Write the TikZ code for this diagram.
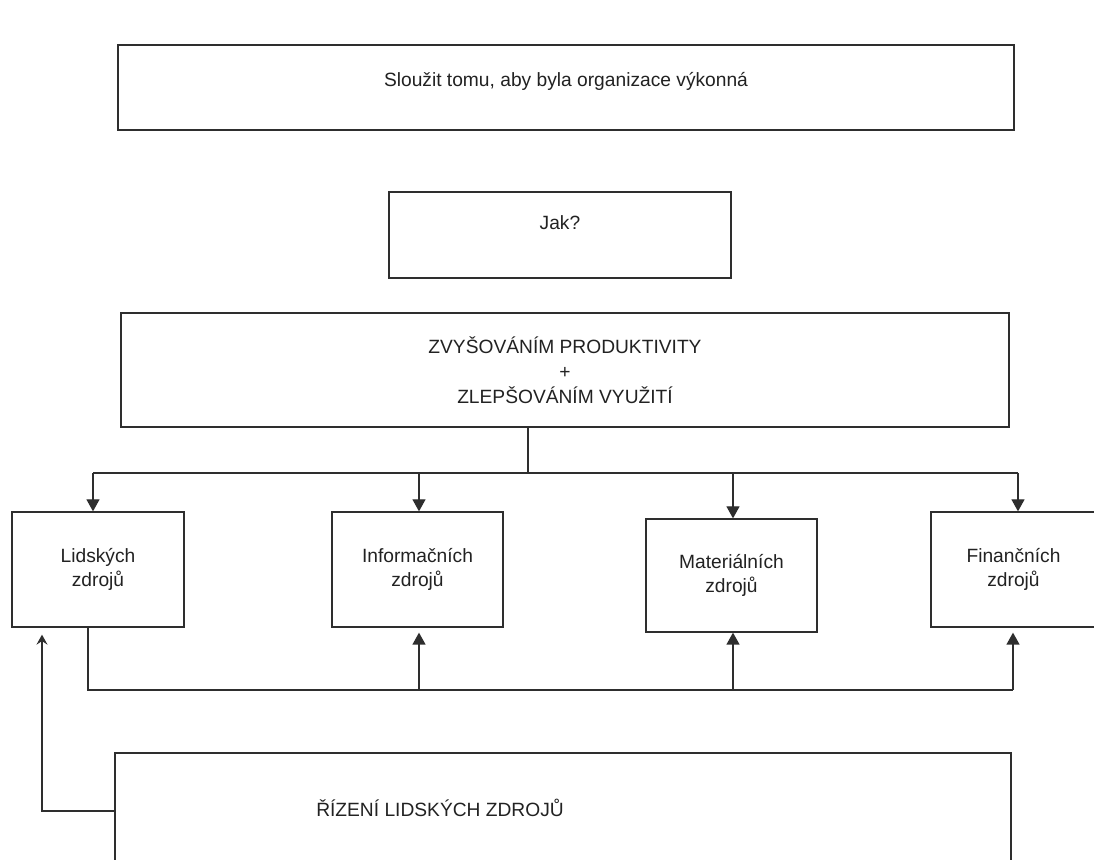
\documentclass[tikz,border=0pt]{standalone}
\usepackage{fontspec}
\setmainfont{Liberation Sans}
\usetikzlibrary{arrows.meta,calc}
\definecolor{ink}{HTML}{2E2E2E}
\definecolor{inktext}{HTML}{222222}
\begin{document}
\begin{tikzpicture}[x=0.5pt,y=-0.5pt,
  font=\fontsize{9.6}{12.4}\selectfont,
  box/.style={draw=ink, line width=0.65pt, rectangle, inner sep=0pt},
  lbl/.style={text=inktext, align=center, inner sep=0pt},
  wire/.style={draw=ink, line width=0.65pt},
  arr/.style={wire, -{Triangle[length=6pt,width=6.5pt]}},
  backarr/.style={wire, -{Stealth[length=5pt,width=5.5pt,inset=1.8pt]}}]
\useasboundingbox (0,0) rectangle (1094,860);
\fill[white] (0,0) rectangle (1094,860);
\clip (0,0) rectangle (1094,860);

% top row of boxes
\node[box, minimum width=448pt, minimum height=42.5pt] (goal) at (566,87.5) {};
\node[lbl] (goaltext) at (566,81) {Sloužit tomu, aby byla organizace výkonná};
\node[box, minimum width=171pt, minimum height=43pt] (jak) at (560,235) {};
\node[lbl] (jaktext) at (560,223) {Jak?};
\node[box, lbl, draw=ink, minimum width=444pt, minimum height=57pt] (zvys) at (565,370)
  {ZVYŠOVÁNÍM PRODUKTIVITY\\+\\ZLEPŠOVÁNÍM VYUŽITÍ};

% resource boxes
\node[box, lbl, draw=ink, minimum width=86pt, minimum height=57.5pt] (lid) at (98,569.5) {Lidských\\zdrojů};
\node[box, lbl, draw=ink, minimum width=85.5pt, minimum height=57.5pt] (inf) at (417.5,569.5) {Informačních\\zdrojů};
\node[box, lbl, draw=ink, minimum width=85.5pt, minimum height=56.5pt] (mat) at (731.5,575.5) {Materiálních\\zdrojů};
\node[box, lbl, draw=ink, minimum width=82.5pt, minimum height=57.5pt] (fin) at (1013.5,569.5) {Finančních\\zdrojů};

% bottom box
\node[box, minimum width=448pt, minimum height=56pt] (hrm) at (563,809) {};
\node[lbl] (hrmtext) at (440,808) {ŘÍZENÍ LIDSKÝCH ZDROJŮ};

% distribution bus from the top
\coordinate (split) at (528,473);
\coordinate (busL) at (93,473);
\coordinate (busR) at (1018,473);
\coordinate (colI) at (419,473);
\coordinate (colM) at (733,473);
\draw[wire] (split |- zvys.south) -- (split);
\draw[wire] (busL) -- (busR);
\draw[arr] (busL) -- (busL |- lid.north);
\draw[arr] (colI) -- (colI |- inf.north);
\draw[arr] (colM) -- (colM |- mat.north);
\draw[arr] (busR) -- (busR |- fin.north);

% feedback bus below
\coordinate (fbL) at (88,690);
\coordinate (fbR) at (1013,690);
\draw[wire] (lid.south -| fbL) -- (fbL) -- (fbR);
\draw[arr, shorten >=2.5pt] (colI |- fbL) -- (colI |- inf.south);
\draw[arr] (colM |- fbL) -- (colM |- mat.south);
\draw[arr, shorten >=2.5pt] (fbR) -- (fbR |- fin.south);

% link from the bottom box to human resources
\coordinate (hrmL) at (42,811);
\draw[backarr, shorten >=3.5pt] (hrm.west |- hrmL) -- (hrmL) -- (hrmL |- lid.south);
\end{tikzpicture}
\end{document}
